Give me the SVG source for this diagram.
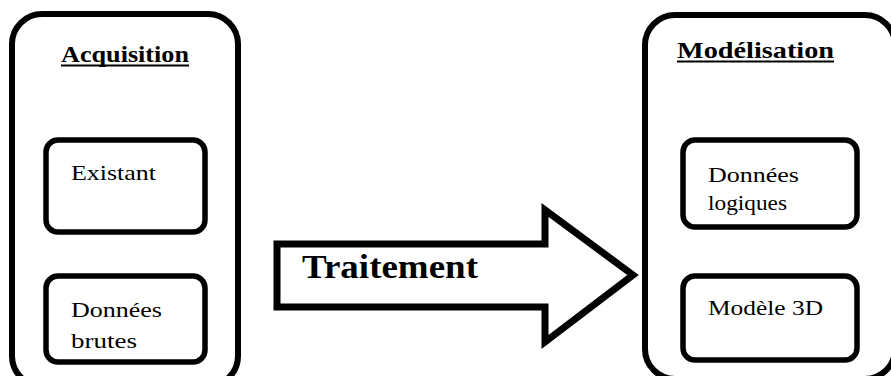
<svg xmlns="http://www.w3.org/2000/svg" width="891" height="376" viewBox="0 0 891 376">
<style>
.outer{fill:#fff;stroke:#000;stroke-width:6}
.inner{fill:#fff;stroke:#000;stroke-width:5.5}
.ul{stroke:#000;stroke-width:1.8}
</style>
<rect width="891" height="376" fill="#fff"/>
<g font-family="'Liberation Serif', 'Times New Roman', Times, serif" fill="#000">
<g id="acquisition">
<rect class="outer" x="12" y="14" width="226" height="372" rx="30"/>
<text x="61" y="62" font-size="23" font-weight="bold" textLength="128" lengthAdjust="spacingAndGlyphs">Acquisition</text>
<line class="ul" x1="61" y1="65.5" x2="189" y2="65.5"/>
</g>
<g id="existant" font-size="22">
<rect class="inner" x="46" y="140" width="159" height="92" rx="12"/>
<text x="71" y="180" textLength="85" lengthAdjust="spacingAndGlyphs">Existant</text>
</g>
<g id="donnees-brutes" font-size="22">
<rect class="inner" x="46" y="276" width="159" height="86" rx="12"/>
<text x="71" y="317" textLength="91" lengthAdjust="spacingAndGlyphs">Données</text>
<text x="71" y="348" textLength="66" lengthAdjust="spacingAndGlyphs">brutes</text>
</g>
<g id="modelisation">
<rect class="outer" x="645" y="15" width="250" height="364" rx="30"/>
<text x="677" y="58" font-size="23" font-weight="bold" textLength="157" lengthAdjust="spacingAndGlyphs">Modélisation</text>
<line class="ul" x1="677" y1="61.5" x2="834" y2="61.5"/>
</g>
<g id="donnees-logiques" font-size="22">
<rect class="inner" x="683" y="140" width="174" height="87" rx="12"/>
<text x="708" y="182" textLength="91" lengthAdjust="spacingAndGlyphs">Données</text>
<text x="708" y="210" textLength="79" lengthAdjust="spacingAndGlyphs">logiques</text>
</g>
<g id="modele-3d" font-size="22">
<rect class="inner" x="683" y="276" width="174" height="84" rx="12"/>
<text x="708" y="315" textLength="115" lengthAdjust="spacingAndGlyphs">Modèle 3D</text>
</g>
<g id="connectors">
<polygon points="277,244 545,244 545,210 633,275 545,342 545,307 277,307" fill="#fff" stroke="#000" stroke-width="7" stroke-linejoin="miter"/>
<text x="302" y="278" font-size="34" font-weight="bold" textLength="176" lengthAdjust="spacingAndGlyphs">Traitement</text>
</g>
</g>
</svg>
